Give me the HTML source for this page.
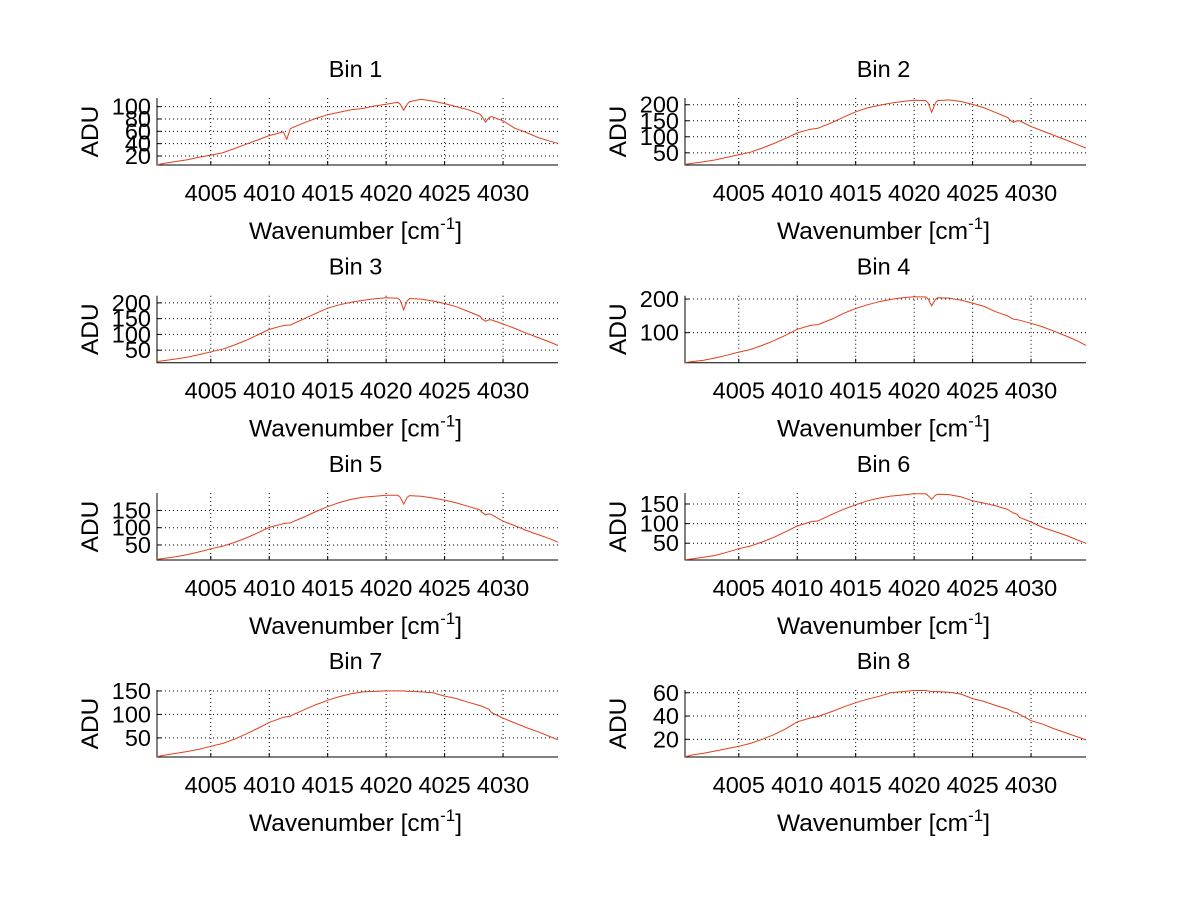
<!DOCTYPE html>
<html><head><meta charset="utf-8"><style>
html,body{margin:0;padding:0;background:#fff;}
svg{display:block;font-family:"Liberation Sans",sans-serif;}
</style></head><body>
<svg id="fig" width="1200" height="901" viewBox="0 0 1200 901" xmlns="http://www.w3.org/2000/svg"></svg>
<script>
const wn=[4000.4,4001,4002,4003,4004,4005,4006,4007,4008,4009,4010,4011,4011.2,4011.5,4011.8,4012,4013,4014,4015,4016,4017,4018,4019,4020,4021,4021.2,4021.5,4021.8,4022,4023,4024,4025,4026,4027,4028,4028.2,4028.5,4028.8,4029,4030,4031,4032,4033,4034,4034.7];
const bin1=[5.5,8,11,14,18,21.5,25,32,39,46,53,58,59,47,64,66,74,81,87,91,95,97,101,104,107,104,94,104,108,112,109,105,100,95,88,84,75,82,84,77,65,58,50,44,40.5];
const bin2=[14,17,22,28,36,44,52,65,79,95,112,122,124,125,127,130,145,162,178,190,198,205,210,214,213,205,176,204,213,215,210,201,190,175,160,152,145,150,150,132,118,104,90,75,65];
const bin3=[14,17,22,28,36,45,53,66,81,98,116,126,128,129,130,133,150,167,183,194,202,208,213,216,215,208,178,206,214,212,206,198,188,173,158,150,142,146,146,133,119,104,90,76,65];
const bin4=[11,14,18,25,33,42,50,62,76,92,110,120,122,123,124,127,141,158,172,183,192,199,204,207,206,200,180,198,204,203,197,188,178,162,150,146,140,139,137,128,117,104,90,75,62];
const bin5=[8,11,16,22,30,39,46,57,70,85,101,110,112,113,114,117,131,147,161,173,182,188,191,194,194,188,168,188,193,191,186,180,172,162,152,145,137,140,138,119,106,92,80,68,58];
const bin6=[8,10,14,19,27,36,43,53,65,79,94,103,105,106,107,110,124,137,148,158,165,170,173,176,176,171,162,172,175,174,168,158,152,145,136,132,127,124,116,104,90,80,70,58,50];
const bin7=[10,13,17,21,26,32,38,47,58,70,83,92,94,95,96,99,110,121,130,138,144,148,149,150,150,150,150,149,149,148,146,139,134,126,119,117,114,111,104,92,82,72,63,53,46];
const bin8=[5,6.5,8,10,12,14,16.5,20,24,29,35,38,38.5,39,39.5,40.5,44,48,51.5,54.5,57,60,61,62,62,61.5,61,61,61,60.5,59,55,52.5,49,46,45,43.5,43,41.5,36,33,29,25.5,22,19.5];
const xTicks=[4005,4010,4015,4020,4025,4030];
const xRange=[4000.4,4034.7];
const yRanges=[[5.4,114],[12,221],[10.3,222.8],[10.6,210],[6.4,200.6],[7.2,178],[9.3,152],[4.8,62.4]];
const yTicks=[[20,40,60,80,100],[50,100,150,200],[50,100,150,200],[100,200],[50,100,150],[50,100,150],[50,100,150],[20,40,60]];
const series=[bin1,bin2,bin3,bin4,bin5,bin6,bin7,bin8];
const titles=["Bin 1","Bin 2","Bin 3","Bin 4","Bin 5","Bin 6","Bin 7","Bin 8"];

const NS="http://www.w3.org/2000/svg";
const svg=document.getElementById('fig');
function mk(tag,attrs,parent){const e=document.createElementNS(NS,tag);for(const k in attrs)e.setAttribute(k,attrs[k]);(parent||svg).appendChild(e);return e;}
const colX=[157,685], W=401;
const rowBottom=[165,362.7,560,757], H=67;
for(let i=0;i<8;i++){
  const L=colX[i%2], B=rowBottom[Math.floor(i/2)], T=B-H, R=L+W;
  const [y0,y1]=yRanges[i];
  const sx=v=>L+(v-xRange[0])/(xRange[1]-xRange[0])*W;
  const sy=v=>B-(v-y0)/(y1-y0)*H;
  const g=mk('g',{});
  
  
  xTicks.forEach(t=>{const l=mk('line',{x1:sx(t),x2:sx(t),y1:T,y2:B,stroke:'#000','stroke-width':1,'stroke-dasharray':'1,3'},g);
    
    mk('line',{x1:sx(t),x2:sx(t),y1:B,y2:B-4,stroke:'#000'},g);
    const tx=mk('text',{x:sx(t),y:B+36,'font-size':23.5,'text-anchor':'middle'},g);tx.textContent=t;
    });
  yTicks[i].forEach(t=>{const l=mk('line',{x1:L,x2:R,y1:sy(t),y2:sy(t),stroke:'#000','stroke-width':1,'stroke-dasharray':'1,3'},g);
    
    mk('line',{x1:L,x2:L+4,y1:sy(t),y2:sy(t),stroke:'#000'},g);
    const tx=mk('text',{x:L-6,y:sy(t)+8,'font-size':23.5,'text-anchor':'end'},g);tx.textContent=t;
    });
  const ax=mk('path',{d:`M${L},${T} L${L},${B} L${R},${B}`,fill:'none',stroke:'#000','stroke-width':1},g);
  
  const pts=wn.map((w,j)=>sx(w).toFixed(1)+','+sy(series[i][j]).toFixed(1)).join(' ');
  const pl=mk('polyline',{points:pts,fill:'none',stroke:'#e0401c','stroke-width':1},g);
  
  const tt=mk('text',{x:L+W/2-2,y:T-21,'font-size':23.5,'text-anchor':'middle'},g);tt.textContent=titles[i];
  
  const xl=mk('text',{x:L+W/2-2,y:B+74,'font-size':24.5,'text-anchor':'middle'},g);
  
  xl.appendChild(document.createTextNode('Wavenumber [cm'));
  const sup=mk('tspan',{dy:-10,'font-size':17},xl);sup.textContent='-1';
  const cl=mk('tspan',{dy:10},xl);cl.textContent=']';
  const yl=mk('text',{x:0,y:0,'font-size':24.5,'text-anchor':'middle',transform:`translate(${L-59},${B-H/2}) rotate(-90)`},g);
  yl.textContent='ADU';
  
}
</script>
</body></html>
